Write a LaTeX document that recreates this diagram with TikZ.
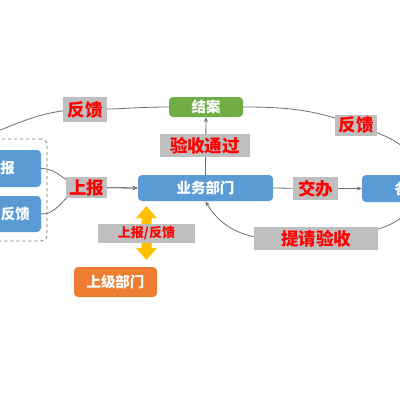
\documentclass[tikz,border=0pt]{standalone}
\usepackage{fontspec}
\setmainfont{Noto Sans CJK SC}
\usetikzlibrary{arrows.meta}
\definecolor{boxblue}{HTML}{5B9BD5}
\definecolor{boxgreen}{HTML}{70AD47}
\definecolor{boxorange}{HTML}{ED7D31}
\definecolor{lblgray}{HTML}{BFBFBF}
\definecolor{lblred}{HTML}{FF0000}
\definecolor{linegray}{HTML}{6F6F6F}
\definecolor{arrowyellow}{HTML}{FFC000}
\pgfdeclarelayer{back}
\pgfdeclarelayer{bg}
\pgfsetlayers{back,bg,main}
\begin{document}
\begin{tikzpicture}[x=1pt,y=-1pt,
 box/.style={rounded corners=4pt, inner sep=0pt, text=white, font=\bfseries\fontsize{14.5}{16}\selectfont},
 lbl/.style={fill=lblgray, inner sep=0pt, text=lblred, font=\bfseries\fontsize{17.5}{19}\selectfont},
 conn/.style={draw=linegray, line width=0.8pt},
 tip/.style={-{Stealth[length=5pt,width=4pt]}}]
\clip (0,0) rectangle (400,400);
\begin{pgfonlayer}{back}
\fill[white] (0,0) rectangle (400,400);
\end{pgfonlayer}
% boxes
\node[box, fill=boxgreen, minimum width=74pt, minimum height=20pt] (jie) at (206,107) {结案};
\node[box, fill=boxblue, minimum width=135pt, minimum height=26pt] (yw) at (205.5,188) {业务部门};
\node[box, fill=boxblue, minimum width=108pt, minimum height=27pt] (rb) at (416,188.5) {各部门};
\node[box, fill=boxorange, minimum width=83pt, minimum height=30pt] (sj) at (115.5,282) {上级部门};
\node[draw=linegray, dashed, line width=0.8pt, rounded corners=6pt, minimum width=57pt, minimum height=102pt, inner sep=0pt] (grp) at (18.5,190) {};
\node[box, fill=boxblue, minimum height=37pt, inner xsep=26pt, text width=29pt, align=right] (lb1) at (0.5,168.5) {报};
\node[box, fill=boxblue, minimum height=36pt, inner xsep=11pt, text width=59pt, align=right] (lb2) at (0.5,214) {反馈};
\coordinate (lend) at (-25,140);
% yellow double arrow
\fill[arrowyellow] (146.5,206) -- (157,218) -- (151.5,218) -- (151.5,248) -- (157,248) -- (146.5,260) -- (136,248) -- (141.5,248) -- (141.5,218) -- (136,218) -- cycle;
% labels
\node[lbl, minimum width=44pt, minimum height=25pt] (fkL) at (85,109.5) {反馈};
\node[lbl, minimum width=90pt, minimum height=23pt] (ys) at (205,145.5) {验收通过};
\node[lbl, minimum width=42pt, minimum height=21pt] (fkR) at (356,125) {反馈};
\node[lbl, minimum width=45pt, minimum height=23pt] (jb) at (315.5,188.5) {交办};
\node[lbl, minimum width=41pt, minimum height=21pt] (sb) at (86.5,187.5) {上报};
\node[lbl, minimum width=124pt, minimum height=23pt] (tq) at (316,238.5) {提请验收};
\node[lbl, minimum width=97pt, minimum height=19pt, font=\bfseries\fontsize{13}{15}\selectfont] (sbfk) at (146.5,233.5) {上报/反馈};
% connectors
\begin{pgfonlayer}{bg}
\draw[conn] (jie.west) to[out=180,in=0] (fkL.center) to[out=180,in=20] (lend);
\draw[conn] (jie.east) to[out=0,in=160] (fkR.center) to[out=-20,in=90] (rb.north);
\draw[conn,tip] (rb.south) to[out=-125,in=10] (tq.center) to[out=185,in=-60] (yw.south);
\draw[conn,tip] (yw.north) -- (jie.south);
\draw[conn,tip] (yw.east) -- (jb) -- (rb.west);
\draw[conn,tip] (lb1.east) to[out=0,in=180] (sb.center) -- (yw.west);
\draw[conn,tip] (lb2.east) to[out=0,in=180] (sb.center) -- (yw.west);
\end{pgfonlayer}
\end{tikzpicture}
\end{document}
